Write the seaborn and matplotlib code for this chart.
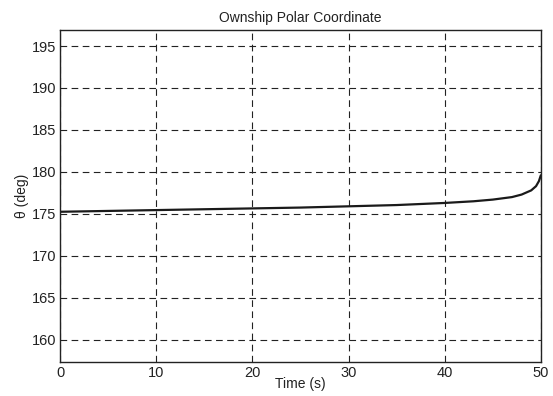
import matplotlib
matplotlib.use("Agg")
import matplotlib.pyplot as plt
import seaborn as sns
import pandas as pd

time_s = [0, 5, 10, 15, 20, 25, 30, 35, 40, 43, 45, 47, 48, 49, 49.5, 49.8, 50]
theta_deg = [175.25, 175.35, 175.45, 175.55, 175.65, 175.75, 175.9, 176.05, 176.3,
             176.5, 176.7, 177.0, 177.3, 177.8, 178.3, 178.9, 179.6]
x_ticks = [0, 10, 20, 30, 40, 50]
y_ticks = [160, 165, 170, 175, 180, 185, 190, 195]

sns.set_theme(style="white")
plt.rcParams['font.family'] = ['Liberation Sans', 'DejaVu Sans']

df = pd.DataFrame({"t": time_s, "theta": theta_deg})

fig = plt.figure(figsize=(5.53, 3.96), dpi=100)
ax = fig.add_axes([0.109, 0.087, 0.869, 0.837])
sns.lineplot(data=df, x="t", y="theta", ax=ax, color="#1a1a1a", linewidth=1.6)

ax.set_xlim(0, 50)
ax.set_ylim(157.4, 196.9)
ax.set_xticks(x_ticks)
ax.set_yticks(y_ticks)
ax.tick_params(direction="in", length=4, labelsize=10.5, colors="#222222", pad=3)
ax.grid(True, color="#222222", linestyle=(0, (6, 4)), linewidth=0.8)
for s in ax.spines.values():
    s.set_color("#222222")
    s.set_linewidth(1.0)
ax.set_title("Ownship Polar Coordinate", fontsize=10, pad=6, color="#222222")
ax.set_xlabel("Time (s)", fontsize=10, labelpad=-2, color="#222222")
ax.set_ylabel("θ (deg)", fontsize=10, labelpad=2, color="#222222")

fig.savefig("out.png", dpi=100)
